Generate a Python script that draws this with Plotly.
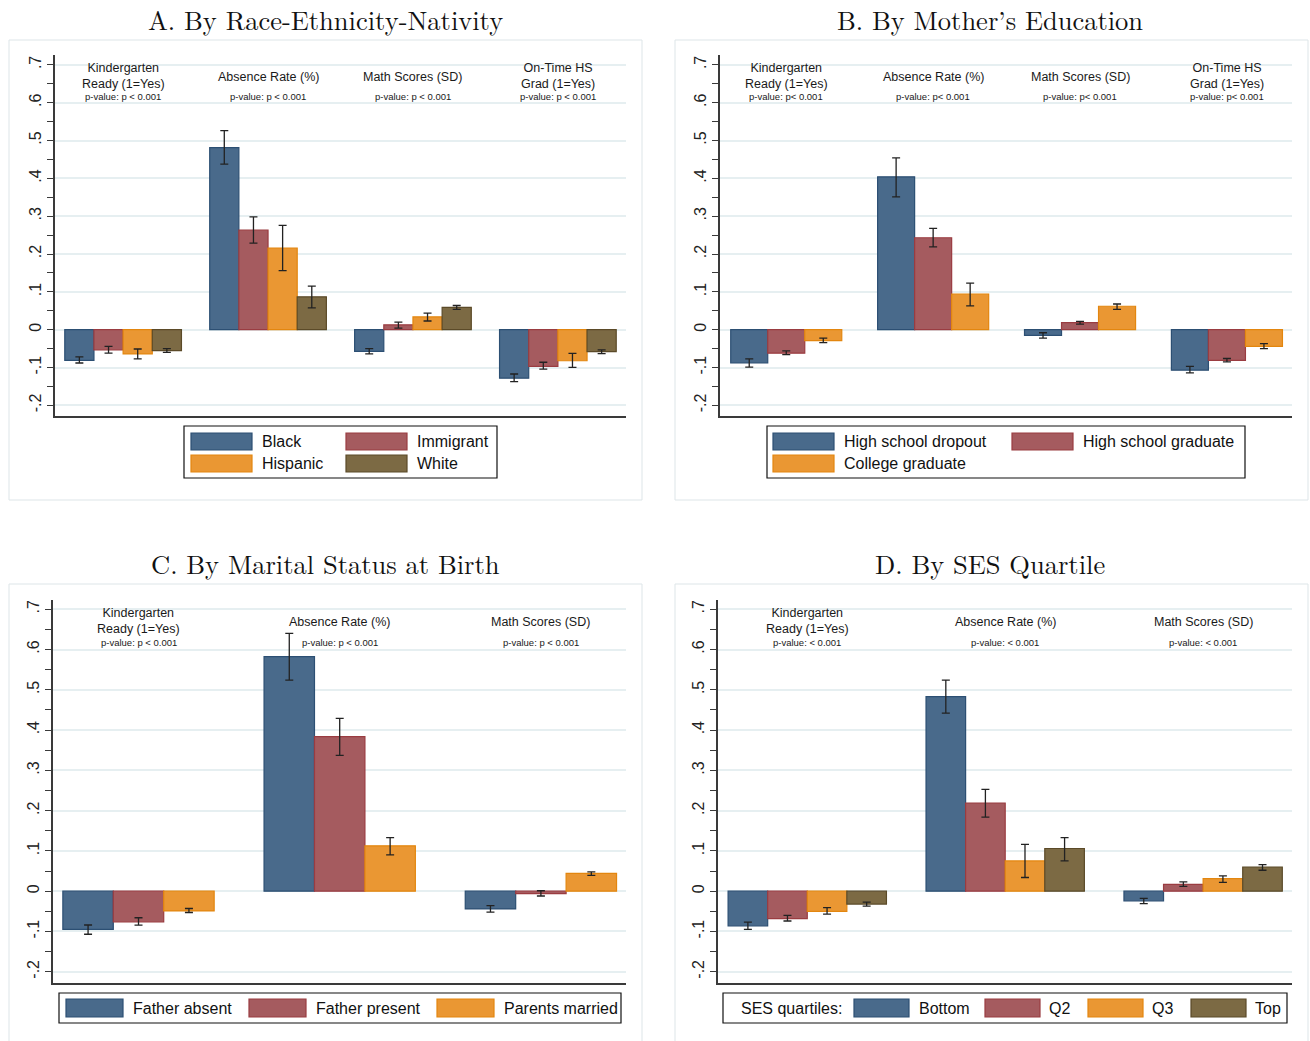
import plotly.graph_objects as go

# ---------------- DATA ----------------
A_outcomes = ["Kindergarten<br>Ready (1=Yes)", "Absence Rate (%)", "Math Scores (SD)", "On-Time HS<br>Grad (1=Yes)"]
A_pvals = ["p-value: p < 0.001"] * 4
A_groups = ["Black", "Immigrant", "Hispanic", "White"]
A_black = [-0.081, 0.481, -0.057, -0.128]
A_black_lo = [-0.088, 0.4375, -0.064, -0.137]
A_black_hi = [-0.072, 0.526, -0.050, -0.117]
A_immig = [-0.053, 0.263, 0.013, -0.097]
A_immig_lo = [-0.062, 0.229, 0.004, -0.104]
A_immig_hi = [-0.044, 0.298, 0.020, -0.086]
A_hisp = [-0.064, 0.216, 0.034, -0.082]
A_hisp_lo = [-0.077, 0.156, 0.023, -0.0995]
A_hisp_hi = [-0.051, 0.276, 0.044, -0.0625]
A_white = [-0.055, 0.087, 0.059, -0.058]
A_white_lo = [-0.060, 0.058, 0.054, -0.063]
A_white_hi = [-0.050, 0.115, 0.064, -0.053]

B_outcomes = A_outcomes
B_pvals = ["p-value: p< 0.001"] * 4
B_groups = ["High school dropout", "High school graduate", "College graduate"]
B_drop = [-0.088, 0.404, -0.015, -0.107]
B_drop_lo = [-0.099, 0.351, -0.022, -0.114]
B_drop_hi = [-0.077, 0.454, -0.008, -0.097]
B_hsg = [-0.062, 0.243, 0.019, -0.081]
B_hsg_lo = [-0.066, 0.219, 0.015, -0.085]
B_hsg_hi = [-0.056, 0.268, 0.022, -0.076]
B_coll = [-0.029, 0.094, 0.062, -0.044]
B_coll_lo = [-0.034, 0.063, 0.054, -0.050]
B_coll_hi = [-0.022, 0.123, 0.068, -0.037]

C_outcomes = ["Kindergarten<br>Ready (1=Yes)", "Absence Rate (%)", "Math Scores (SD)"]
C_pvals = ["p-value: p < 0.001"] * 3
C_groups = ["Father absent", "Father present", "Parents married"]
C_absent = [-0.095, 0.5825, -0.044]
C_absent_lo = [-0.107, 0.524, -0.052]
C_absent_hi = [-0.084, 0.640, -0.036]
C_present = [-0.076, 0.384, -0.006]
C_present_lo = [-0.0845, 0.337, -0.012]
C_present_hi = [-0.066, 0.429, 0.001]
C_married = [-0.049, 0.1127, 0.044]
C_married_lo = [-0.053, 0.090, 0.039]
C_married_hi = [-0.043, 0.133, 0.048]

D_outcomes = C_outcomes
D_pvals = ["p-value: < 0.001"] * 3
D_groups = ["Bottom", "Q2", "Q3", "Top"]
D_bottom = [-0.086, 0.483, -0.024]
D_bottom_lo = [-0.095, 0.442, -0.031]
D_bottom_hi = [-0.077, 0.524, -0.018]
D_q2 = [-0.068, 0.219, 0.017]
D_q2_lo = [-0.074, 0.184, 0.012]
D_q2_hi = [-0.060, 0.253, 0.023]
D_q3 = [-0.050, 0.075, 0.031]
D_q3_lo = [-0.057, 0.034, 0.022]
D_q3_hi = [-0.041, 0.116, 0.038]
D_top = [-0.032, 0.106, 0.060]
D_top_lo = [-0.037, 0.075, 0.052]
D_top_hi = [-0.027, 0.133, 0.066]

titles = ["A. By Race-Ethnicity-Nativity", "B. By Mother\u2019s Education",
          "C. By Marital Status at Birth", "D. By SES Quartile"]
ytick_vals = [-0.2, -0.1, 0, 0.1, 0.2, 0.3, 0.4, 0.5, 0.6, 0.7]
ytick_text = ["-.2", "-.1", "0", ".1", ".2", ".3", ".4", ".5", ".6", ".7"]

# ---------------- STYLE ----------------
FILL = ["#496a8b", "#a55b5f", "#ea9733", "#7c6a44"]
EDGE = ["#2c4f73", "#9a3c41", "#e3860f", "#5b4a28"]
SANS = "Liberation Sans, Arial, Helvetica, sans-serif"
SERIF = "Latin Modern Roman, CMU Serif, Liberation Serif, Times New Roman, serif"
GRID = "#e6eff1"
AXC = "#3a3a3a"

W, H = 1310, 1041
def px(x): return x / W
def py(y): return 1 - y / H

panels = [
    dict(outcomes=A_outcomes, pvals=A_pvals, groups=A_groups,
         vals=[A_black, A_immig, A_hisp, A_white],
         lo=[A_black_lo, A_immig_lo, A_hisp_lo, A_white_lo],
         hi=[A_black_hi, A_immig_hi, A_hisp_hi, A_white_hi],
         box=(55, 626, 55, 416), xr=[-0.47, 3.47], yr=[-0.228, 0.726], gw=0.805,
         frame=(9, 642, 40, 500), title_xy=(325, 19)),
    dict(outcomes=B_outcomes, pvals=B_pvals, groups=B_groups,
         vals=[B_drop, B_hsg, B_coll],
         lo=[B_drop_lo, B_hsg_lo, B_coll_lo],
         hi=[B_drop_hi, B_hsg_hi, B_coll_hi],
         box=(720, 1292, 55, 416), xr=[-0.451, 3.443], yr=[-0.228, 0.726], gw=0.756,
         frame=(675, 1308, 40, 500), title_xy=(990, 19)),
    dict(outcomes=C_outcomes, pvals=C_pvals, groups=C_groups,
         vals=[C_absent, C_present, C_married],
         lo=[C_absent_lo, C_present_lo, C_married_lo],
         hi=[C_absent_hi, C_present_hi, C_married_hi],
         box=(53, 626, 600, 983), xr=[-0.425, 2.423], yr=[-0.228, 0.723], gw=0.752,
         frame=(9, 642, 584, 1045), title_xy=(325, 563)),
    dict(outcomes=D_outcomes, pvals=D_pvals, groups=D_groups,
         vals=[D_bottom, D_q2, D_q3, D_top],
         lo=[D_bottom_lo, D_q2_lo, D_q3_lo, D_top_lo],
         hi=[D_bottom_hi, D_q2_hi, D_q3_hi, D_top_hi],
         box=(718, 1292, 600, 983), xr=[-0.451, 2.449], yr=[-0.228, 0.723], gw=0.80,
         frame=(675, 1308, 584, 1045), title_xy=(990, 563)),
]

fig = go.Figure()
shapes, annotations = [], []

for k, p in enumerate(panels):
    sfx = "" if k == 0 else str(k + 1)
    xa, ya = "x" + sfx, "y" + sfx
    n = len(p["groups"])
    gw = p["gw"]
    xs = list(range(len(p["outcomes"])))
    for i in range(n):
        v = p["vals"][i]
        up = [h - a for h, a in zip(p["hi"][i], v)]
        dn = [a - l for a, l in zip(v, p["lo"][i])]
        fig.add_trace(go.Bar(
            x=xs, y=v, name=p["groups"][i], xaxis=xa, yaxis=ya,
            width=gw / n, offset=-gw / 2 + i * gw / n,
            marker=dict(color=FILL[i], line=dict(color=EDGE[i], width=1.2)),
            error_y=dict(type="data", array=up, arrayminus=dn, symmetric=False,
                         color="#222222", thickness=1.3, width=4),
            showlegend=False, hoverinfo="x+y"))
    x0, x1, y0, y1 = p["box"]
    lay_x = "xaxis" + sfx
    lay_y = "yaxis" + sfx
    fig.layout[lay_x] = dict(domain=[px(x0), px(x1)], range=p["xr"], anchor=ya,
                             showline=True, linecolor=AXC, linewidth=1.5,
                             showgrid=False, zeroline=False, showticklabels=False,
                             ticks="", fixedrange=True)
    fig.layout[lay_y] = dict(domain=[py(y1), py(y0)], range=p["yr"], anchor=xa,
                             showline=True, linecolor=AXC, linewidth=1.5,
                             tickvals=ytick_vals, ticktext=ytick_text, tickangle=-90,
                             ticks="outside", ticklen=6, tickwidth=1.2, tickcolor=AXC,
                             tickfont=dict(family=SANS, size=16, color="#222222"),
                             showgrid=True, gridcolor=GRID, gridwidth=1.5,
                             zeroline=False,
                             minor=dict(dtick=0.05, tick0=0, ticks="outside", ticklen=6,
                                        tickwidth=1.2, tickcolor=AXC, showgrid=False),
                             fixedrange=True)
    # outcome labels (one text block each) and p-values
    for j, lab in enumerate(p["outcomes"]):
        two = "<br>" in lab
        annotations.append(dict(x=j, y=0.671 if two else 0.668, xref=xa, yref=ya, text=lab,
                                showarrow=False, xanchor="center", yanchor="middle",
                                font=dict(family=SANS, size=12.5, color="#1a1a1a")))
        annotations.append(dict(x=j, y=0.617, xref=xa, yref=ya, text=p["pvals"][j],
                                showarrow=False, xanchor="center", yanchor="middle",
                                font=dict(family=SANS, size=9.5, color="#1a1a1a")))
    # panel frame
    fx0, fx1, fy0, fy1 = p["frame"]
    shapes.append(dict(type="rect", xref="paper", yref="paper",
                       x0=px(fx0), x1=px(fx1), y0=py(fy1), y1=py(fy0),
                       line=dict(color="#dde5e8", width=1), fillcolor="rgba(0,0,0,0)",
                       layer="below"))
    tx, ty = p["title_xy"]
    annotations.append(dict(x=px(tx), y=py(ty), xref="paper", yref="paper", text=titles[k],
                            showarrow=False, xanchor="center", yanchor="middle",
                            font=dict(family=SERIF, size=26.5, color="#111111")))

# ---------------- manual legends (Stata style) ----------------
def legend_box(x0, x1, y0, y1):
    shapes.append(dict(type="rect", xref="paper", yref="paper",
                       x0=px(x0), x1=px(x1), y0=py(y1), y1=py(y0),
                       line=dict(color="#111111", width=1.2), fillcolor="white"))

def legend_item(sx, sy, sw, sh, ci, label, tx):
    shapes.append(dict(type="rect", xref="paper", yref="paper",
                       x0=px(sx), x1=px(sx + sw), y0=py(sy + sh), y1=py(sy),
                       line=dict(color=EDGE[ci], width=1.2), fillcolor=FILL[ci]))
    annotations.append(dict(x=px(tx), y=py(sy + sh / 2), xref="paper", yref="paper",
                            text=label, showarrow=False, xanchor="left", yanchor="middle",
                            font=dict(family=SANS, size=16, color="#111111")))

# Panel A legend
legend_box(184, 497, 426, 478)
legend_item(191, 433, 61, 17, 0, A_groups[0], 260)
legend_item(346, 433, 61, 17, 1, A_groups[1], 415)
legend_item(191, 455, 61, 17, 2, A_groups[2], 260)
legend_item(346, 455, 61, 17, 3, A_groups[3], 415)
# Panel B legend
legend_box(767, 1245, 426, 478)
legend_item(773, 433, 61, 17, 0, B_groups[0], 842)
legend_item(1012, 433, 61, 17, 1, B_groups[1], 1081)
legend_item(773, 455, 61, 17, 2, B_groups[2], 842)
# Panel C legend
legend_box(59, 621, 993, 1023)
legend_item(66, 999, 57, 18, 0, C_groups[0], 131)
legend_item(249, 999, 57, 18, 1, C_groups[1], 314)
legend_item(437, 999, 57, 18, 2, C_groups[2], 502)
# Panel D legend
legend_box(723, 1287, 993, 1023)
annotations.append(dict(x=px(739), y=py(1008), xref="paper", yref="paper",
                        text="SES quartiles:", showarrow=False, xanchor="left",
                        yanchor="middle", font=dict(family=SANS, size=16, color="#111111")))
legend_item(854, 999, 55, 18, 0, D_groups[0], 917)
legend_item(985, 999, 55, 18, 1, D_groups[1], 1047)
legend_item(1088, 999, 55, 18, 2, D_groups[2], 1150)
legend_item(1191, 999, 55, 18, 3, D_groups[3], 1253)

fig.update_layout(
    width=W, height=H, autosize=False,
    margin=dict(l=0, r=0, t=0, b=0),
    paper_bgcolor="white", plot_bgcolor="white",
    barmode="overlay",
    shapes=shapes, annotations=annotations,
    font=dict(family=SANS),
)

fig.write_html("out.html", config={"displayModeBar": False},
               post_script="document.body.style.margin='0';document.body.style.overflow='hidden';")
